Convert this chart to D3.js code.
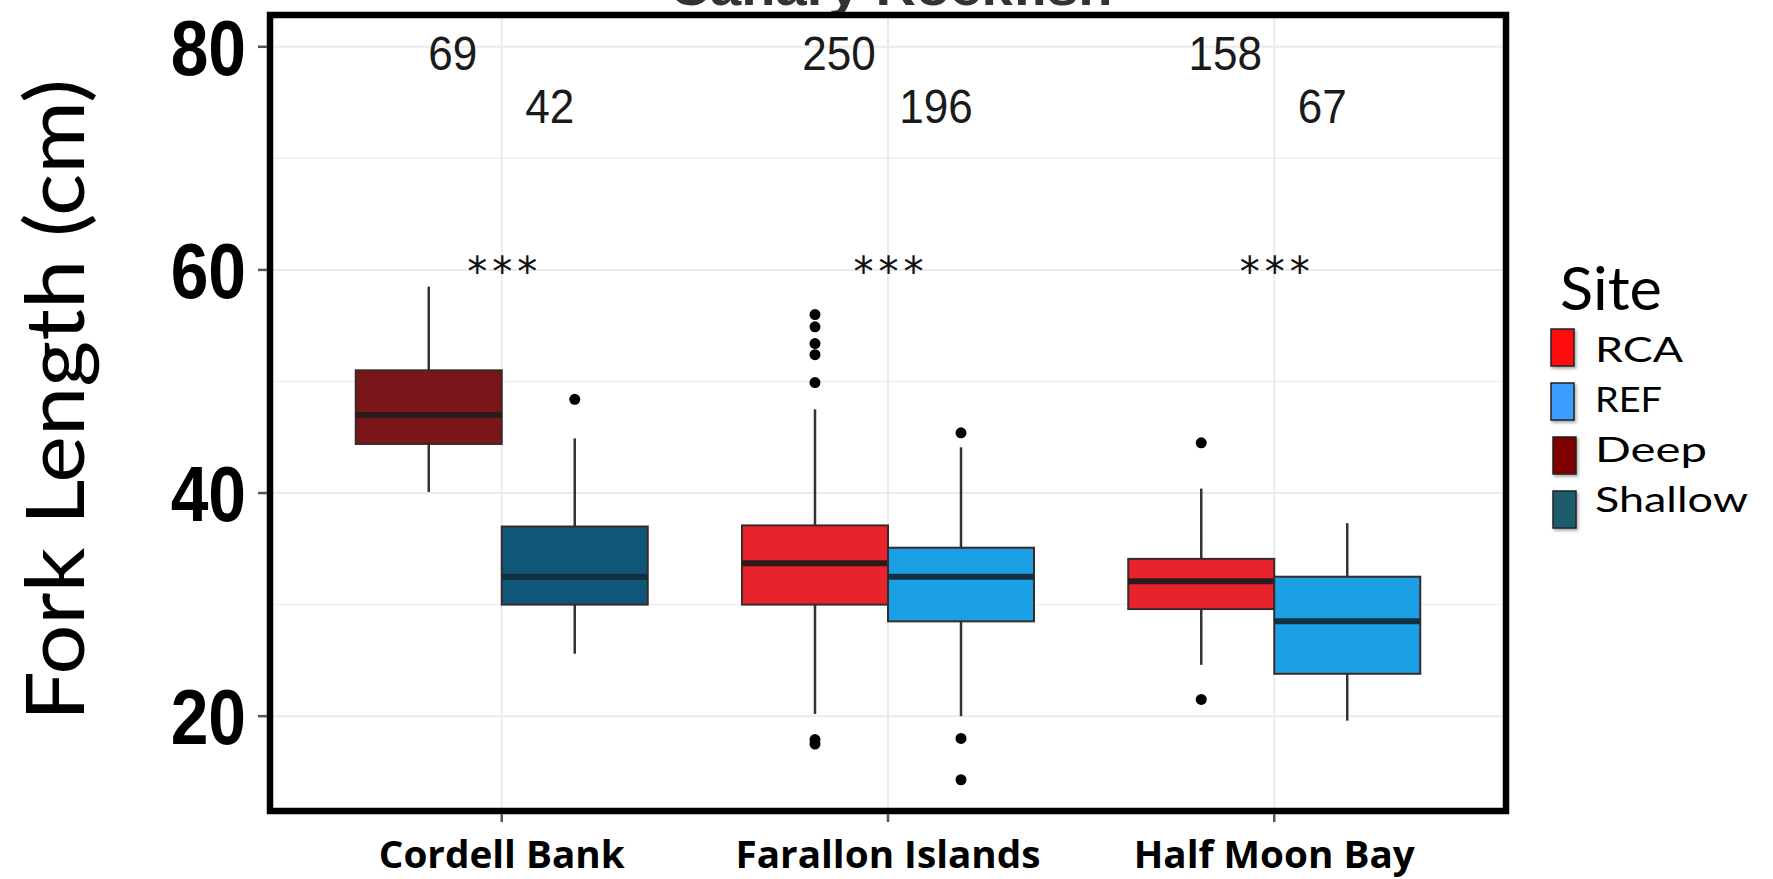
<!DOCTYPE html>
<html>
<head>
<meta charset="utf-8">
<script src="https://cdn.jsdelivr.net/npm/d3@7"></script>
<style>
  html, body { margin: 0; padding: 0; background: #fff; }
  svg { display: block; }
</style>
</head>
<body>
<svg id="chart" width="1773" height="879"></svg>
<script>
// ---------------- DATA ----------------
const sites = ["Cordell Bank", "Farallon Islands", "Half Moon Bay"];
const boxSite   = ["Cordell Bank", "Cordell Bank", "Farallon Islands", "Farallon Islands", "Half Moon Bay", "Half Moon Bay"];
const boxGroup  = ["Deep", "Shallow", "RCA", "REF", "RCA", "REF"];
const whiskerLow  = [40.1, 25.6, 20.2, 20.0, 24.6, 19.6];
const q1          = [44.4, 30.0, 30.0, 28.5, 29.6, 23.8];
const median      = [47.0, 32.5, 33.7, 32.5, 32.1, 28.5];
const q3          = [51.0, 37.0, 37.1, 35.1, 34.1, 32.5];
const whiskerHigh = [58.5, 44.9, 47.5, 44.1, 40.4, 37.3];
const outliers = [
  [],
  [48.4],
  [56.0, 54.9, 53.4, 52.4, 49.9, 17.9, 17.5],
  [45.4, 18.0, 14.3],
  [44.5, 21.5],
  []
];
const counts = [69, 42, 250, 196, 158, 67];
const signif = ["***", "***", "***"];
const yTicks = [20, 40, 60, 80];
const yMinor = [30, 50, 70];
const legendKeys = ["RCA", "REF", "Deep", "Shallow"];
const legendTitle = "Site";
const yTitle = "Fork Length (cm)";
const chartTitle = "Canary Rockfish";

// ---------------- STYLES ----------------
const boxFill    = { RCA: "#e8232b", REF: "#1ba0e6", Deep: "#7a151a", Shallow: "#0f5679" };
const medianCol  = { RCA: "#2e1a1c", REF: "#12303f", Deep: "#2e1a1c", Shallow: "#12303f" };
const legendFill = { RCA: "#ff0d0d", REF: "#3b9dff", Deep: "#800000", Shallow: "#1f5c6c" };

const svg = d3.select("#chart");
const panel = { left: 270, right: 1506, top: 15, bottom: 811 };

const x = d3.scalePoint().domain(sites).range([panel.left, panel.right]).padding(0.6);
const y = d3.scaleLinear().domain([11.5, 82.85]).range([panel.bottom, panel.top]);
const step = x.step();
const boxW = step * 0.378;

// title, mostly cut off at the top edge as in the original figure
svg.append("text")
  .attr("x", 891).attr("y", 5)
  .attr("text-anchor", "middle")
  .attr("font-family", "Liberation Sans, Arial, sans-serif")
  .attr("font-weight", "bold")
  .attr("font-size", 52)
  .attr("fill", "#333")
  .attr("textLength", 443)
  .attr("lengthAdjust", "spacingAndGlyphs")
  .text(chartTitle);

// panel background
svg.append("rect")
  .attr("x", panel.left).attr("y", panel.top)
  .attr("width", panel.right - panel.left).attr("height", panel.bottom - panel.top)
  .attr("fill", "#fff");

// grid
const grid = svg.append("g");
grid.selectAll("line.minor").data(yMinor).join("line")
  .attr("x1", panel.left).attr("x2", panel.right)
  .attr("y1", d => y(d)).attr("y2", d => y(d))
  .attr("stroke", "#f0f0f0").attr("stroke-width", 1.5);
grid.selectAll("line.major").data(yTicks).join("line")
  .attr("x1", panel.left).attr("x2", panel.right)
  .attr("y1", d => y(d)).attr("y2", d => y(d))
  .attr("stroke", "#ebebeb").attr("stroke-width", 2);
grid.selectAll("line.vert").data(sites).join("line")
  .attr("x1", d => x(d)).attr("x2", d => x(d))
  .attr("y1", panel.top).attr("y2", panel.bottom)
  .attr("stroke", "#ebebeb").attr("stroke-width", 2);

// boxes
const boxes = boxSite.map((s, i) => ({
  site: s, group: boxGroup[i], lo: whiskerLow[i], q1: q1[i], med: median[i],
  q3: q3[i], hi: whiskerHigh[i], out: outliers[i],
  slot: boxSite.slice(0, i).filter(t => t === s).length
}));
const bx = d => x(d.site) + (d.slot === 0 ? -boxW : 0);
const bc = d => bx(d) + boxW / 2;

const bg = svg.append("g").selectAll("g").data(boxes).join("g");
bg.append("line")
  .attr("x1", bc).attr("x2", bc)
  .attr("y1", d => y(d.hi)).attr("y2", d => y(d.q3))
  .attr("stroke", "#333").attr("stroke-width", 2.5);
bg.append("line")
  .attr("x1", bc).attr("x2", bc)
  .attr("y1", d => y(d.q1)).attr("y2", d => y(d.lo))
  .attr("stroke", "#333").attr("stroke-width", 2.5);
bg.append("rect")
  .attr("x", bx).attr("width", boxW)
  .attr("y", d => y(d.q3)).attr("height", d => y(d.q1) - y(d.q3))
  .attr("fill", d => boxFill[d.group])
  .attr("stroke", "#3a2a2a").attr("stroke-width", 2);
bg.append("line")
  .attr("x1", bx).attr("x2", d => bx(d) + boxW)
  .attr("y1", d => y(d.med)).attr("y2", d => y(d.med))
  .attr("stroke", d => medianCol[d.group]).attr("stroke-width", 6);
bg.selectAll("circle").data(d => d.out.map(v => ({ v, cx: bc(d) }))).join("circle")
  .attr("cx", d => d.cx).attr("cy", d => y(d.v)).attr("r", 5.5).attr("fill", "#000");

// counts
const cg = svg.append("g");
boxes.forEach((d, i) => {
  const cx = x(d.site) + (d.slot === 0 ? -49 : 48);
  const cy = d.slot === 0 ? 70 : 123;
  cg.append("g").attr("transform", `translate(${cx},${cy}) scale(0.9,1)`)
    .append("text")
    .attr("text-anchor", "middle")
    .attr("font-family", "Liberation Sans, Arial, sans-serif")
    .attr("font-size", 49).attr("fill", "#1a1a1a")
    .text(counts[i]);
});

// significance
svg.append("g").selectAll("text").data(sites).join("text")
  .attr("x", d => x(d) + 3).attr("y", 286)
  .attr("text-anchor", "middle")
  .attr("font-family", "DejaVu Sans, sans-serif")
  .attr("font-size", 40).attr("letter-spacing", 5)
  .attr("fill", "#111")
  .text((d, i) => signif[i]);

// panel border
svg.append("rect")
  .attr("x", panel.left).attr("y", panel.top)
  .attr("width", panel.right - panel.left).attr("height", panel.bottom - panel.top)
  .attr("fill", "none").attr("stroke", "#000").attr("stroke-width", 6.5);

// y ticks & labels
const ya = svg.append("g");
ya.selectAll("line").data(yTicks).join("line")
  .attr("x1", panel.left - 12).attr("x2", panel.left - 3)
  .attr("y1", d => y(d)).attr("y2", d => y(d))
  .attr("stroke", "#555").attr("stroke-width", 2.5);
ya.selectAll("g").data(yTicks).join("g")
  .attr("transform", d => `translate(246,${y(d) + 28}) scale(0.88,1)`)
  .append("text")
  .attr("text-anchor", "end")
  .attr("font-family", "Liberation Sans, Arial, sans-serif")
  .attr("font-weight", "bold").attr("font-size", 77).attr("fill", "#000")
  .text(d => d);

// x ticks & labels
const xa = svg.append("g");
xa.selectAll("line").data(sites).join("line")
  .attr("x1", d => x(d)).attr("x2", d => x(d))
  .attr("y1", panel.bottom + 3).attr("y2", panel.bottom + 11)
  .attr("stroke", "#555").attr("stroke-width", 2.5);
const xl = xa.selectAll("text").data(sites).join("text")
  .attr("x", d => x(d)).attr("y", 868)
  .attr("text-anchor", "middle")
  .attr("font-family", "Open Sans, sans-serif")
  .attr("font-weight", "bold").attr("font-size", 37).attr("fill", "#000")
  .text(d => d);
const nat = xl.nodes().map(n => n.getComputedTextLength());
const k = 305 / nat[1];
xl.attr("textLength", (d, i) => nat[i] * k).attr("lengthAdjust", "spacingAndGlyphs");

// y title
svg.append("text")
  .attr("transform", "translate(84,400) rotate(-90)")
  .attr("text-anchor", "middle")
  .attr("font-family", "Lato, sans-serif")
  .attr("font-size", 82).attr("fill", "#000")
  .attr("textLength", 642).attr("lengthAdjust", "spacingAndGlyphs")
  .text(yTitle);

// legend
const defs = svg.append("defs");
const f = defs.append("filter").attr("id", "shadow").attr("x", "-50%").attr("y", "-50%").attr("width", "200%").attr("height", "200%");
f.append("feDropShadow").attr("dx", 1.5).attr("dy", 2).attr("stdDeviation", 1.5).attr("flood-color", "#000").attr("flood-opacity", 0.35);

const lg = svg.append("g");
lg.append("text")
  .attr("x", 1560).attr("y", 310)
  .attr("font-family", "Lato, sans-serif").attr("font-size", 60).attr("fill", "#000")
  .attr("textLength", 102).attr("lengthAdjust", "spacingAndGlyphs")
  .text(legendTitle);
const legendTextLen = { RCA: 88, REF: 67, Deep: 112, Shallow: 153 };
const li = lg.selectAll("g").data(legendKeys).join("g");
li.append("rect")
  .attr("x", (d, i) => 1551 + (i >= 2 ? 2 : 0)).attr("y", (d, i) => 329 + i * 54)
  .attr("width", 23).attr("height", 37)
  .attr("fill", d => legendFill[d]).attr("stroke", "#222").attr("stroke-width", 1.5)
  .attr("filter", "url(#shadow)");
li.append("text")
  .attr("x", 1595).attr("y", (d, i) => 362 + i * 50)
  .attr("font-family", "Lato, sans-serif").attr("font-size", 35).attr("fill", "#000")
  .attr("textLength", d => legendTextLen[d]).attr("lengthAdjust", "spacingAndGlyphs")
  .text(d => d);
</script>
</body>
</html>
